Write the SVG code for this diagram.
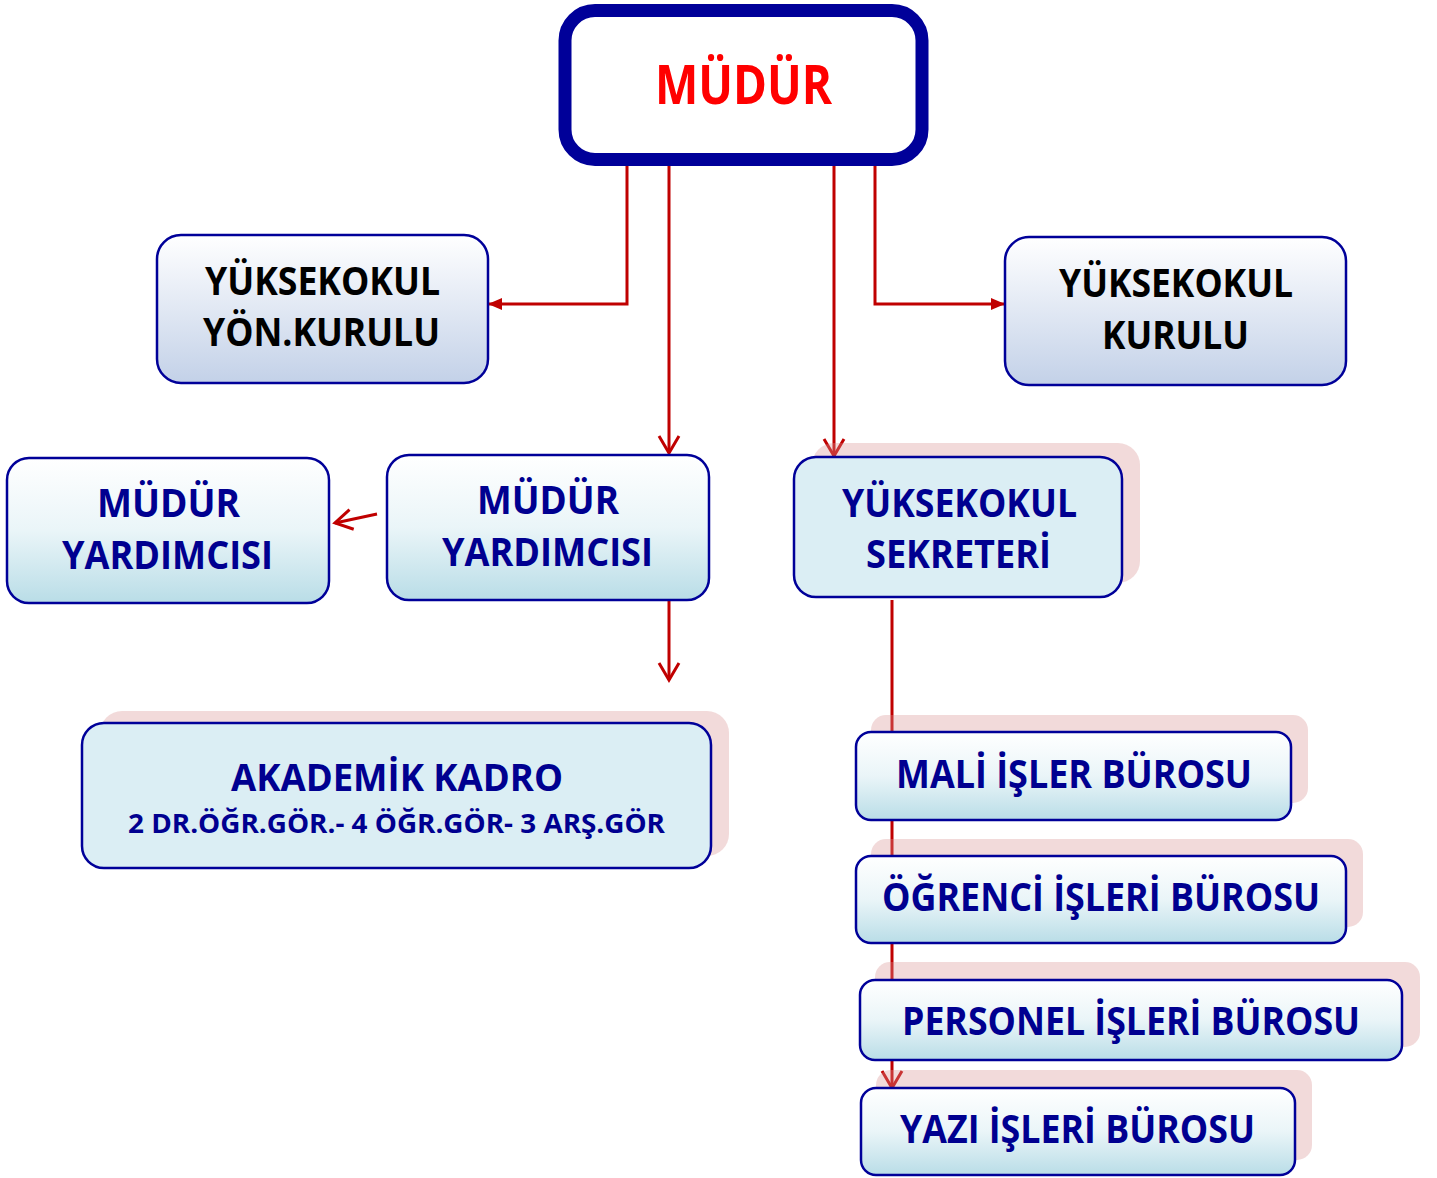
<svg xmlns="http://www.w3.org/2000/svg" width="1437" height="1178" viewBox="0 0 1437 1178">
<style>
.t{font-family:"Open Sans","Noto Sans","Liberation Sans",sans-serif;font-weight:bold;text-anchor:middle}
.blk{fill:#000000;font-size:40px}
.nv{fill:#000090;font-size:40px}
.box{stroke:#000099;stroke-width:2.5}
.sh{fill:#d99594;opacity:0.35}
.con{fill:none;stroke:#c00000;stroke-width:3}
</style>
<defs>
<linearGradient id="gGray" x1="0" y1="0" x2="0" y2="1">
<stop offset="0" stop-color="#ffffff"/><stop offset="1" stop-color="#c3d1e8"/>
</linearGradient>
<linearGradient id="gCyan" x1="0" y1="0" x2="0" y2="1">
<stop offset="0" stop-color="#ffffff"/><stop offset="0.5" stop-color="#eaf5f8"/><stop offset="1" stop-color="#b9dde7"/>
</linearGradient>
<marker id="chev" markerUnits="userSpaceOnUse" viewBox="0 0 22 24" refX="19" refY="12" markerWidth="22" markerHeight="24" orient="auto">
<path d="M2,2 L19,12 L2,22" fill="none" stroke="#c00000" stroke-width="3"/>
</marker>
<marker id="tri" markerUnits="userSpaceOnUse" viewBox="0 0 14 12" refX="13" refY="6" markerWidth="14" markerHeight="12" orient="auto">
<path d="M0,0 L14,6 L0,12 z" fill="#c00000"/>
</marker>
</defs>
<rect width="1437" height="1178" fill="#ffffff"/>
<g id="connectors">
<path class="con" d="M627,166 V304 H489" marker-end="url(#tri)"/>
<path class="con" d="M875,166 V304 H1004" marker-end="url(#tri)"/>
<path class="con" d="M669,166 V453" marker-end="url(#chev)"/>
<path class="con" d="M834,162 V456" marker-end="url(#chev)"/>
<path class="con" d="M377,514 L335,523" marker-end="url(#chev)"/>
<path class="con" d="M669,601 V680" marker-end="url(#chev)"/>
<path class="con" d="M892,600 V1088" marker-end="url(#chev)"/>
</g>
<g id="mudur">
<rect x="565" y="10.5" width="357" height="149" rx="30" fill="#ffffff" stroke="#000099" stroke-width="13"/>
<text class="t" x="743.5" y="104" font-size="54" fill="#ff0000" textLength="177" lengthAdjust="spacingAndGlyphs">MÜDÜR</text>
</g>
<g id="yon-kurulu">
<rect class="box" x="157" y="235" width="331" height="148" rx="24" fill="url(#gGray)"/>
<text class="t blk" x="322.5" y="295" textLength="235" lengthAdjust="spacingAndGlyphs">YÜKSEKOKUL</text>
<text class="t blk" x="321.5" y="346" textLength="237" lengthAdjust="spacingAndGlyphs">YÖN.KURULU</text>
</g>
<g id="yuksekokul-kurulu">
<rect class="box" x="1005" y="237" width="341" height="148" rx="24" fill="url(#gGray)"/>
<text class="t blk" x="1176" y="297" textLength="234" lengthAdjust="spacingAndGlyphs">YÜKSEKOKUL</text>
<text class="t blk" x="1175.5" y="349" textLength="147" lengthAdjust="spacingAndGlyphs">KURULU</text>
</g>
<g id="mudur-yard-1">
<rect class="box" x="7" y="458" width="322" height="145" rx="22" fill="url(#gCyan)"/>
<text class="t nv" x="168.5" y="517" textLength="143" lengthAdjust="spacingAndGlyphs">MÜDÜR</text>
<text class="t nv" x="167.5" y="569" textLength="211" lengthAdjust="spacingAndGlyphs">YARDIMCISI</text>
</g>
<g id="mudur-yard-2">
<rect class="box" x="387" y="455" width="322" height="145" rx="22" fill="url(#gCyan)"/>
<text class="t nv" x="548" y="514" textLength="142" lengthAdjust="spacingAndGlyphs">MÜDÜR</text>
<text class="t nv" x="547.5" y="566" textLength="211" lengthAdjust="spacingAndGlyphs">YARDIMCISI</text>
</g>
<g id="sekreter">
<rect class="sh" x="812" y="443" width="328" height="140" rx="22"/>
<rect class="box" x="794" y="457" width="328" height="140" rx="22" fill="#dbeef4"/>
<text class="t nv" x="959.5" y="517" textLength="235" lengthAdjust="spacingAndGlyphs">YÜKSEKOKUL</text>
<text class="t nv" x="958.5" y="568" textLength="185" lengthAdjust="spacingAndGlyphs">SEKRETERİ</text>
</g>
<g id="akademik">
<rect class="sh" x="100" y="711" width="629" height="145" rx="22"/>
<rect class="box" x="82" y="723" width="629" height="145" rx="22" fill="#dbeef4"/>
<text class="t" x="397" y="791" font-size="37" fill="#000090" textLength="332" lengthAdjust="spacingAndGlyphs">AKADEMİK KADRO</text>
<text class="t" x="396.5" y="833" font-size="27" fill="#000090" textLength="537" lengthAdjust="spacingAndGlyphs">2 DR.ÖĞR.GÖR.- 4 ÖĞR.GÖR- 3 ARŞ.GÖR</text>
</g>
<g id="mali">
<rect class="sh" x="871" y="715" width="437" height="88" rx="15"/>
<rect class="box" x="856" y="732" width="435" height="88" rx="15" fill="url(#gCyan)"/>
<text class="t nv" x="1074" y="788" textLength="356" lengthAdjust="spacingAndGlyphs">MALİ İŞLER BÜROSU</text>
</g>
<g id="ogrenci">
<rect class="sh" x="871" y="839" width="492" height="88" rx="15"/>
<rect class="box" x="856" y="856" width="490" height="87" rx="15" fill="url(#gCyan)"/>
<text class="t nv" x="1101" y="911" textLength="438" lengthAdjust="spacingAndGlyphs">ÖĞRENCİ İŞLERİ BÜROSU</text>
</g>
<g id="personel">
<rect class="sh" x="875" y="962" width="545" height="85" rx="15"/>
<rect class="box" x="860" y="980" width="542" height="80" rx="15" fill="url(#gCyan)"/>
<text class="t nv" x="1131" y="1035" textLength="458" lengthAdjust="spacingAndGlyphs">PERSONEL İŞLERİ BÜROSU</text>
</g>
<g id="yazi">
<rect class="sh" x="876" y="1070" width="436" height="90" rx="15"/>
<rect class="box" x="861" y="1088" width="434" height="87" rx="15" fill="url(#gCyan)"/>
<text class="t nv" x="1077.5" y="1143" textLength="355" lengthAdjust="spacingAndGlyphs">YAZI İŞLERİ BÜROSU</text>
</g>
</svg>
